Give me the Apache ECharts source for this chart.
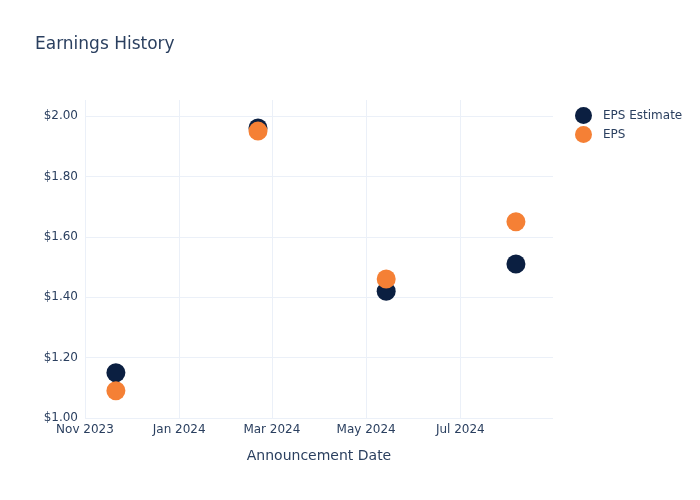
<!DOCTYPE html>
<html>
<head>
<meta charset="utf-8">
<script src="https://cdn.jsdelivr.net/npm/echarts@6/dist/echarts.min.js"></script>
<style>html,body{margin:0;padding:0;background:#fff}#c{width:700px;height:500px}</style>
</head>
<body>
<div id="c"></div>
<script>
var dates = ['2023-11-21', '2024-02-21', '2024-05-14', '2024-08-06'];
var epsEstimate = [1.15, 1.96, 1.42, 1.51];
var eps = [1.09, 1.95, 1.46, 1.65];
var xTicks = ['2023-11-01', '2024-01-01', '2024-03-01', '2024-05-01', '2024-07-01'];
var xRange = ['2023-11-01', '2024-08-30'];
var yTicks = [1.0, 1.2, 1.4, 1.6, 1.8, 2.0];

var FONT = 'DejaVu Sans, Verdana, sans-serif';
var TXT = '#2a3f5f';
var MONTHS = ['Jan','Feb','Mar','Apr','May','Jun','Jul','Aug','Sep','Oct','Nov','Dec'];

function ts(s) { return new Date(s + 'T00:00:00').getTime(); }
function pairs(vals) { return dates.map(function (d, i) { return [ts(d), vals[i]]; }); }
var xTickVals = xTicks.map(ts);

var chart = echarts.init(document.getElementById('c'));
chart.setOption({
  backgroundColor: '#fff',
  animation: false,
  textStyle: { fontFamily: FONT, color: TXT },
  title: {
    text: 'Earnings History', left: 30, top: 31,
    textStyle: { fontFamily: FONT, fontSize: 17, fontWeight: 'normal', color: TXT }
  },
  legend: {
    orient: 'vertical', left: 570, top: 102, itemWidth: 17, itemHeight: 17, itemGap: 2,
    icon: 'circle',
    textStyle: { fontFamily: FONT, fontSize: 12, color: TXT, padding: [0, 0, 0, 6] },
    data: ['EPS Estimate', 'EPS']
  },
  grid: { left: 85, right: 147, top: 100, bottom: 82 },
  xAxis: {
    type: 'value',
    min: ts(xRange[0]), max: ts(xRange[1]),
    name: 'Announcement Date', nameLocation: 'middle', nameGap: 31,
    nameTextStyle: { fontFamily: FONT, fontSize: 14, color: TXT },
    axisLine: { show: false },
    axisTick: { show: false, customValues: xTickVals },
    axisLabel: {
      fontFamily: FONT, fontSize: 12, color: TXT, margin: 6,
      customValues: xTickVals,
      formatter: function (v) { var d = new Date(v); return MONTHS[d.getMonth()] + ' ' + d.getFullYear(); }
    },
    splitLine: { show: true, lineStyle: { color: '#ebf0f8', width: 1 } }
  },
  yAxis: {
    type: 'value', min: 1.0, max: 2.053,
    axisLine: { show: false },
    axisTick: { show: false, customValues: yTicks },
    axisLabel: {
      fontFamily: FONT, fontSize: 12, color: TXT, margin: 7,
      customValues: yTicks,
      formatter: function (v) { return '$' + v.toFixed(2); }
    },
    splitLine: { show: true, lineStyle: { color: '#ebf0f8', width: 1 } }
  },
  series: [
    { name: 'EPS Estimate', type: 'scatter', symbolSize: 19, itemStyle: { color: '#0b1f41', opacity: 1 }, data: pairs(epsEstimate) },
    { name: 'EPS', type: 'scatter', symbolSize: 19, itemStyle: { color: '#f58035', opacity: 1 }, data: pairs(eps) }
  ]
});
</script>
</body>
</html>
